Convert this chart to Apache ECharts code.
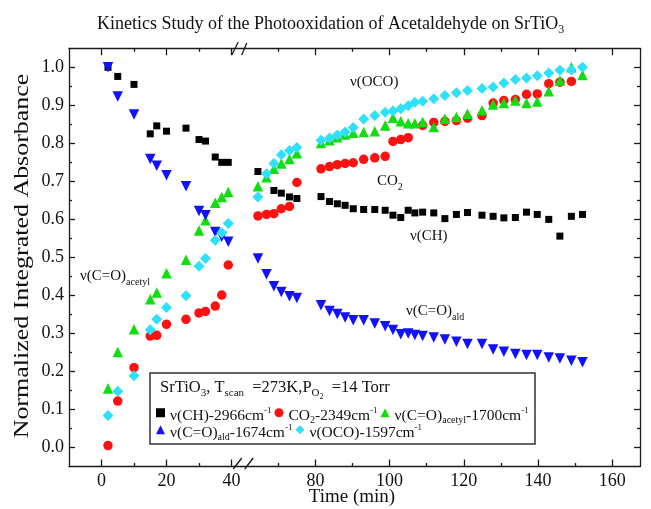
<!DOCTYPE html>
<html>
<head>
<meta charset="utf-8">
<script src="https://cdn.jsdelivr.net/npm/echarts@6/dist/echarts.min.js"></script>
<style>
html, body {margin: 0; padding: 0; background: #fff;}
#chart {width: 651px; height: 509px;}
</style>
</head>
<body>
<div id="chart"></div>
<script>
// time (min) before and after the axis break
const timeA = [2, 5, 10, 15, 17, 20, 26, 30, 32, 35, 37, 39];
const timeB = [64.5, 66.8, 68.8, 70.8, 73, 75, 81.5, 83.8, 85.9, 88, 90.2, 93, 96, 98.8, 100.9, 103, 105, 106.8,
    108.9, 111.9, 114.9, 118, 121, 124.9, 127.9, 130.8, 133.9, 136.9, 139.8, 142.9, 145.9, 149, 152];

// normalized integrated absorbance
const chA = [1.0, 0.976, 0.955, 0.825, 0.846, 0.832, 0.840, 0.810, 0.806, 0.764, 0.750, 0.750];
const chB = [0.726, null, 0.676, 0.669, 0.659, 0.655, 0.660, 0.647, 0.641, 0.637, 0.628, 0.626, 0.626, 0.624,
    0.611, 0.605, 0.624, 0.617, 0.619, 0.617, 0.602, 0.613, 0.618, 0.611, 0.608, 0.604, 0.605, 0.619, 0.613,
    0.600, 0.556, 0.608, 0.613];
const co2A = [0.005, 0.122, 0.210, 0.293, 0.295, 0.324, 0.337, 0.354, 0.358, 0.372, 0.401, 0.480];
const co2B = [0.609, 0.613, 0.615, 0.628, 0.634, 0.697, 0.733, 0.739, 0.744, 0.747, 0.749, 0.758, 0.762, 0.766,
    0.805, 0.810, 0.815, null, 0.847, 0.855, 0.858, 0.860, 0.866, 0.873, 0.906, 0.913, 0.915, 0.929, 0.930,
    0.957, 0.961, 0.963, null];
const aceA = [0.155, 0.251, 0.311, 0.390, 0.408, 0.458, 0.494, 0.571, 0.598, 0.644, 0.659, 0.672];
const aceB = [0.687, 0.711, 0.733, 0.747, 0.759, 0.774, 0.801, 0.808, 0.816, 0.823, 0.828, 0.830, 0.832, 0.847,
    0.867, 0.858, 0.853, 0.853, 0.856, 0.843, 0.865, 0.869, 0.878, 0.887, 0.902, 0.906, 0.913, 0.906, 0.910,
    0.937, 0.965, 1.0, 0.980];
const aldA = [1.0, 0.923, 0.876, 0.759, 0.741, 0.716, 0.687, 0.622, 0.611, 0.567, 0.554, 0.541];
const aldB = [0.497, 0.456, 0.424, 0.409, 0.398, 0.393, 0.374, 0.359, 0.351, 0.342, 0.335, 0.335, 0.326, 0.319,
    0.309, 0.298, 0.300, 0.296, 0.293, 0.289, 0.284, 0.278, 0.272, 0.272, 0.258, 0.252, 0.246, 0.243, 0.243,
    0.237, 0.234, 0.228, 0.224];
const ocoA = [0.084, 0.148, 0.189, 0.310, 0.337, 0.368, 0.399, 0.477, 0.497, 0.545, 0.565, 0.589];
const ocoB = [0.659, 0.720, 0.747, 0.770, 0.781, 0.789, 0.808, 0.814, 0.822, 0.830, 0.842, 0.864, 0.873, 0.882,
    0.885, 0.891, 0.899, 0.908, 0.911, 0.917, 0.926, 0.933, 0.939, 0.944, 0.948, 0.959, 0.968, 0.972, 0.978,
    0.985, 0.992, 0.993, 1.0];

// tick values
const xMajorA = [0, 20, 40];
const xMinorA = [10, 30];
const xMajorB = [80, 100, 120, 140, 160];
const xMinorB = [70, 90, 110, 130, 150];
const yMajor = [0, 0.1, 0.2, 0.3, 0.4, 0.5, 0.6, 0.7, 0.8, 0.9, 1.0];
const yMinor = [0.05, 0.15, 0.25, 0.35, 0.45, 0.55, 0.65, 0.75, 0.85, 0.95];

const names = ['v(CH)', 'CO2', 'acetyl', 'ald', 'OCO'];

const SERIF = '"Liberation Serif", "Times New Roman", serif';
const INK = '#111';

// layout
const L = {left: 69, top: 48.3, height: 418.2, brk: 241.25, right: 640};
const xMaxB = 167.5;

// rich text styles (sub / superscripts); key is 'color' for components, 'fill' for graphic
function rich(F, colorKey, subF) {
    subF = subF || 10;
    const c = {fontFamily: SERIF, fontWeight: 'normal', verticalAlign: 'top'};
    c[colorKey] = INK;
    const mid = 3 + (F + 1) / 2;
    return {
        b: Object.assign({fontSize: F, lineHeight: F + 1, padding: [3, 0, 0, 0]}, c),
        sub: Object.assign({fontSize: subF, lineHeight: subF, padding: [mid + 5 - subF / 2, 0, 0, 0]}, c),
        sup: Object.assign({fontSize: 9, lineHeight: 9, padding: [Math.max(mid - 5.5 - 4.5, 0), 0, 0, 0]}, c),
        ss: Object.assign({fontSize: 8, lineHeight: 8, padding: [mid + 9 - 4, 0, 0, 0]}, c)
    };
}

const legendText = {
    'v(CH)': '{b|ν(CH)-2966cm}{sup|-1}',
    'CO2': '{b|CO}{sub|2}{b|-2349cm}{sup|-1}',
    'acetyl': '{b|ν(C=O)}{sub|acetyl}{b|-1700cm}{sup|-1}',
    'ald': '{b|ν(C=O)}{sub|ald}{b|-1674cm}{sup|-1}',
    'OCO': '{b|ν(OCO)-1597cm}{sup|-1}'
};

const axisLine = {color: '#1a1a1a', width: 1.3};

function xAxis(grid, pos, min, max, ticks, len, line, labels) {
    return {
        type: 'value', gridIndex: grid, position: pos, min: min, max: max,
        axisLine: {show: line, onZero: false, lineStyle: axisLine},
        axisTick: {show: true, inside: true, length: len, customValues: ticks, lineStyle: axisLine},
        axisLabel: labels ? {customValues: ticks, fontFamily: SERIF, fontSize: 18, color: INK, margin: 6} : {show: false},
        splitLine: {show: false}
    };
}

function yAxis(grid, pos, ticks, len, line, labels) {
    return {
        type: 'value', gridIndex: grid, position: pos, min: -0.05, max: 1.05,
        axisLine: {show: line, onZero: false, lineStyle: axisLine},
        axisTick: {show: true, inside: true, length: len, customValues: ticks, lineStyle: axisLine},
        axisLabel: labels ? {
            customValues: ticks, fontFamily: SERIF, fontSize: 18, color: INK, margin: 5,
            formatter: v => v.toFixed(1)
        } : {show: false},
        splitLine: {show: false}
    };
}

const styles = [
    {symbol: 'rect', size: 7, color: '#000000', rotate: 0},
    {symbol: 'circle', size: 9.5, color: '#ff1111', rotate: 0},
    {symbol: 'triangle', size: 10.5, color: '#11dd11', rotate: 0},
    {symbol: 'triangle', size: 10.5, color: '#1111ff', rotate: 180},
    {symbol: 'diamond', size: 11, color: '#2ee0fa', rotate: 0}
];
const valuesA = [chA, co2A, aceA, aldA, ocoA];
const valuesB = [chB, co2B, aceB, aldB, ocoB];

function pairs(times, vals) {
    const out = [];
    times.forEach((t, i) => { if (vals[i] !== null) out.push([t, vals[i]]); });
    return out;
}

const series = [];
names.forEach((n, k) => {
    const st = styles[k];
    const base = {
        name: n, type: 'scatter', symbol: st.symbol, symbolSize: st.size, symbolRotate: st.rotate,
        itemStyle: {color: st.color, opacity: 1}, emphasis: {disabled: true}
    };
    series.push(Object.assign({}, base, {xAxisIndex: 0, yAxisIndex: 0, data: pairs(timeA, valuesA[k])}));
    series.push(Object.assign({}, base, {xAxisIndex: 4, yAxisIndex: 2, data: pairs(timeB, valuesB[k])}));
});

const legendBase = {
    orient: 'horizontal', left: 156, padding: 0, itemWidth: 9, itemHeight: 9, itemGap: 3,
    selectedMode: false,
    formatter: n => legendText[n],
    textStyle: {fontFamily: SERIF, fontSize: 15.5, color: INK, rich: rich(15.5, 'color')}
};

function label(text, x, y, F, subF) {
    return {
        type: 'text', x: x, y: y, z: 10,
        style: {text: text, fontFamily: SERIF, fontSize: F, fill: INK, verticalAlign: 'top', rich: rich(F, 'fill', subF)}
    };
}

const slash = (x1, y1, x2, y2) => ({
    type: 'line', z: 10, shape: {x1: x1, y1: y1, x2: x2, y2: y2},
    style: {stroke: '#1a1a1a', lineWidth: 1.3}
});

const chart = echarts.init(document.getElementById('chart'), null, {renderer: 'canvas'});
chart.setOption({
    animation: false,
    backgroundColor: '#fff',
    title: {
        text: '{b|Kinetics Study of the Photooxidation of Acetaldehyde on SrTiO}{sub|3}',
        left: 97, top: 12, padding: 0,
        textStyle: {fontWeight: 'normal', rich: rich(18, 'color', 12)}
    },
    grid: [
        {left: L.left, top: L.top, width: L.brk - L.left, height: L.height, containLabel: false, outerBoundsMode: 'none'},
        {left: L.brk, top: L.top, width: L.right - L.brk, height: L.height, containLabel: false, outerBoundsMode: 'none'}
    ],
    xAxis: [
        xAxis(0, 'bottom', -10, 43, xMajorA, 7, true, true),
        xAxis(0, 'bottom', -10, 43, xMinorA, 3.5, false, false),
        xAxis(0, 'top', -10, 43, xMajorA, 7, true, false),
        xAxis(0, 'top', -10, 43, xMinorA, 3.5, false, false),
        xAxis(1, 'bottom', 60, xMaxB, xMajorB, 7, true, true),
        xAxis(1, 'bottom', 60, xMaxB, xMinorB, 3.5, false, false),
        xAxis(1, 'top', 60, xMaxB, xMajorB, 7, true, false),
        xAxis(1, 'top', 60, xMaxB, xMinorB, 3.5, false, false)
    ],
    yAxis: [
        yAxis(0, 'left', yMajor, 6, true, true),
        yAxis(0, 'left', yMinor, 3, false, false),
        yAxis(1, 'right', yMajor, 6, true, false),
        yAxis(1, 'right', yMinor, 3, false, false)
    ],
    legend: [
        Object.assign({}, legendBase, {data: names.slice(0, 3), top: 404.5}),
        Object.assign({}, legendBase, {data: names.slice(3), top: 421.5})
    ],
    graphic: [
        {
            type: 'rect', z: 1, shape: {x: 150, y: 373, width: 385, height: 71},
            style: {fill: 'rgba(255,255,255,0)', stroke: '#333', lineWidth: 1.5}
        },
        label('{b|SrTiO}{sub|3}{b|, T}{sub|scan}{b|  =273K,P}{sub|O}{ss|2}{b|  =14 Torr}', 160, 376.5, 16.5, 11),
        label('{b|ν(OCO)}', 350, 72, 15),
        label('{b|CO}{sub|2}', 377, 171, 15),
        label('{b|ν(CH)}', 410, 226, 15),
        label('{b|ν(C=O)}{sub|ald}', 406, 301, 15),
        label('{b|ν(C=O)}{sub|acetyl}', 80, 266, 15),
        {
            type: 'text', x: 352, y: 497, z: 10,
            style: {text: 'Time (min)', fontFamily: SERIF, fontSize: 19, fill: INK, align: 'center', verticalAlign: 'middle'}
        },
        {
            type: 'text', x: 22, y: 256, z: 10, rotation: Math.PI / 2, scaleX: 1.18,
            style: {text: 'Normalized Integrated Absorbance', fontFamily: SERIF, fontSize: 22, fill: INK, align: 'center', verticalAlign: 'middle'}
        },
        // axis break marks
        slash(L.brk - 8, 469, L.brk + 0.5, 458),
        slash(L.brk + 3.5, 469, L.brk + 12, 458),
        slash(L.brk - 9.5, 55, L.brk - 3, 42),
        slash(L.brk + 0.5, 55, L.brk + 5.5, 43)
    ],
    series: series
});
</script>
</body>
</html>
